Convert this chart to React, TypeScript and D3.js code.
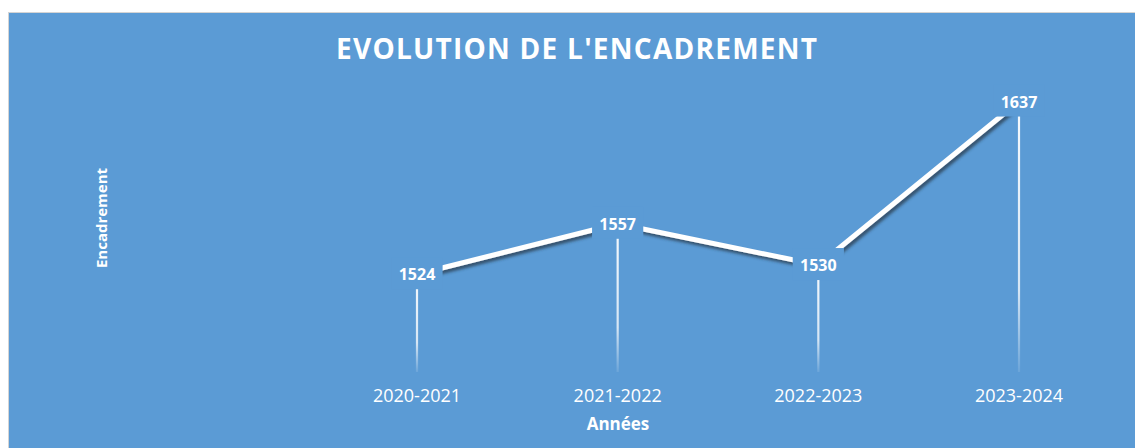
import React from "react";
import * as d3 from "d3";

const categories = ["2020-2021", "2021-2022", "2022-2023", "2023-2024"];
const values = [1524, 1557, 1530, 1637];
const yDomain = [1460, 1660];

const W = 1135;
const H = 448;
const BG = "#5b9bd5";
const FONT = "'Open Sans', 'Noto Sans', sans-serif";

export default function App() {
  const x = d3.scalePoint<string>().domain(categories).range([417, 1019]);
  const y = d3.scaleLinear().domain(yDomain).range([372, 66.4]);
  const pts = categories.map((c, i) => ({ c, v: values[i], px: x(c) as number, py: y(values[i]) }));
  const line = d3.line<any>().x((d) => d.px).y((d) => d.py);
  const labelW = (v: number) => String(v).length * 9.3 + 14;

  return (
    <svg
      width={W}
      height={H}
      style={{ position: "absolute", left: 0, top: 0, display: "block" }}
    >
      <defs>
        <linearGradient id="drop" x1="0" y1="0" x2="0" y2="1">
          <stop offset="0" stopColor="#ffffff" stopOpacity={0.95} />
          <stop offset="0.7" stopColor="#ffffff" stopOpacity={0.75} />
          <stop offset="1" stopColor="#ffffff" stopOpacity={0.1} />
        </linearGradient>
        <filter id="shadow" x="-10%" y="-10%" width="130%" height="130%">
          <feDropShadow dx="2" dy="3" stdDeviation="1.6" floodColor="#2a3a4a" floodOpacity="0.75" />
        </filter>
      </defs>
      <rect x={0} y={0} width={W} height={H} fill="#ffffff" />
      <rect x={8} y={12} width={W - 8} height={H - 12} fill="#d4d4d4" />
      <rect x={9} y={13} width={W - 9} height={H - 13} fill={BG} />

      <text
        x={576.5}
        y={59}
        textAnchor="middle"
        fontFamily={FONT}
        fontWeight="bold"
        fontSize={28}
        fill="#ffffff"
        textLength={481}
        lengthAdjust="spacing"
      >
        EVOLUTION DE L'ENCADREMENT
      </text>

      {pts.map((p) => (
        <rect
          key={"d" + p.c}
          x={p.px - 1.1}
          width={2.2}
          y={p.py}
          height={y(yDomain[0]) - p.py}
          fill="url(#drop)"
        />
      ))}

      <path
        d={line(pts) as string}
        fill="none"
        stroke="#ffffff"
        strokeWidth={5}
        strokeLinejoin="round"
        filter="url(#shadow)"
      />

      {pts.map((p) => (
        <g key={"l" + p.c}>
          <rect
            x={p.px - labelW(p.v) / 2}
            y={p.py - 17}
            width={labelW(p.v)}
            height={32}
            fill={BG}
          />
          <text
            x={p.px}
            y={p.py + 6}
            textAnchor="middle"
            fontFamily={FONT}
            fontWeight="bold"
            fontSize={16}
            fill="#ffffff"
          >
            {p.v}
          </text>
        </g>
      ))}

      {categories.map((c) => (
        <text
          key={"c" + c}
          x={x(c) as number}
          y={401.5}
          textAnchor="middle"
          fontFamily={FONT}
          fontSize={18}
          fill="#ffffff"
        >
          {c}
        </text>
      ))}

      <text
        x={618}
        y={430}
        textAnchor="middle"
        fontFamily={FONT}
        fontWeight="bold"
        fontSize={17}
        fill="#ffffff"
      >
        Années
      </text>

      <text
        transform={`translate(106.5, 218) rotate(-90)`}
        textAnchor="middle"
        fontFamily={FONT}
        fontWeight="bold"
        fontSize={15}
        fill="#ffffff"
      >
        Encadrement
      </text>
    </svg>
  );
}
